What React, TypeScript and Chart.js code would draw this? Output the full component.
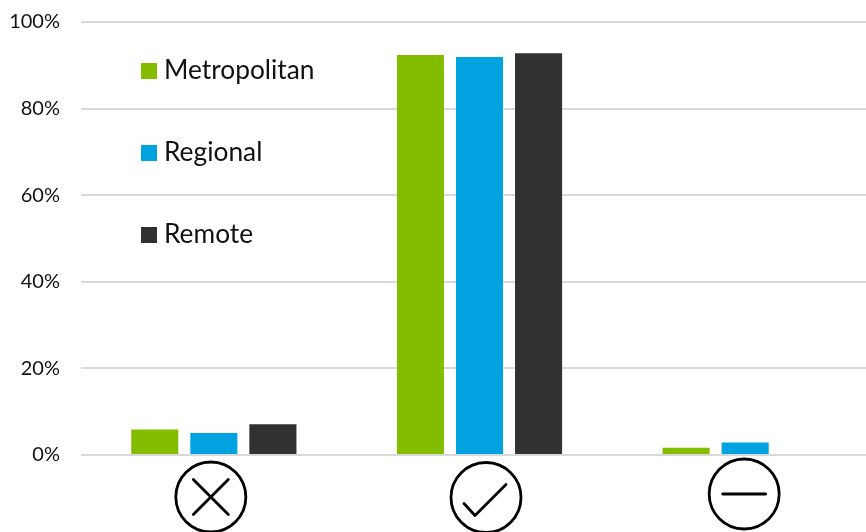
import React, { useEffect, useRef } from "react";
import { Chart, registerables } from "chart.js";

Chart.register(...registerables);

const categories = ["Disagree", "Agree", "Neutral"];
const metropolitan = [5.9, 92.4, 1.7];
const regional = [5.1, 91.9, 2.9];
const remote = [7.1, 92.8, 0];
const yTicks = [0, 20, 40, 60, 80, 100];

const FONT = "Lato, 'Open Sans', sans-serif";
const GREEN = "#84BD00";
const BLUE = "#00A3E0";
const DARK = "#313131";

const iconPlugin = {
  id: "answerIcons",
  afterDraw(chart: any) {
    const { ctx, scales } = chart;
    const x = scales.x;
    const nudges = [-3, 6.5, -1];
    const ys = [497, 497.5, 494];
    const r = 35;
    categories.forEach((_, i) => {
      const cx = x.getPixelForValue(i) + nudges[i];
      const cy = ys[i];
      ctx.save();
      ctx.strokeStyle = "#000";
      ctx.lineWidth = 2.8;
      ctx.lineCap = "round";
      ctx.lineJoin = "round";
      ctx.beginPath();
      ctx.arc(cx, cy, r, 0, Math.PI * 2);
      ctx.stroke();
      ctx.beginPath();
      if (i === 0) {
        ctx.moveTo(cx - 17.5, cy - 17.5);
        ctx.lineTo(cx + 17.5, cy + 17.5);
        ctx.moveTo(cx + 17.5, cy - 17.5);
        ctx.lineTo(cx - 17.5, cy + 17.5);
      } else if (i === 1) {
        ctx.moveTo(cx - 22, cy + 6);
        ctx.lineTo(cx - 11, cy + 18);
        ctx.lineTo(cx + 20, cy - 13);
      } else {
        ctx.moveTo(cx - 21.5, cy);
        ctx.lineTo(cx + 21.5, cy);
      }
      ctx.stroke();
      ctx.restore();
    });
  },
};

const legendPlugin = {
  id: "insideLegend",
  afterDraw(chart: any) {
    const { ctx, chartArea } = chart;
    const left = chartArea.left + 60;
    const firstY = chartArea.top + 49;
    const step = 82;
    chart.data.datasets.forEach((ds: any, i: number) => {
      const y = firstY + i * step;
      ctx.save();
      ctx.fillStyle = ds.backgroundColor;
      ctx.fillRect(left, y - 8, 16, 16);
      ctx.fillStyle = "#111";
      ctx.font = `26.3px ${FONT}`;
      ctx.textBaseline = "middle";
      ctx.textAlign = "left";
      ctx.fillText(ds.label, left + 23, y);
      ctx.restore();
    });
  },
};

export default function App() {
  const ref = useRef<HTMLCanvasElement>(null);
  useEffect(() => {
    if (!ref.current) return;
    const chart = new Chart(ref.current, {
      type: "bar",
      data: {
        labels: categories,
        datasets: [
          { label: "Metropolitan", data: metropolitan, backgroundColor: GREEN },
          { label: "Regional", data: regional, backgroundColor: BLUE },
          { label: "Remote", data: remote, backgroundColor: DARK },
        ],
      },
      options: {
        animation: false,
        responsive: false,
        datasets: { bar: { categoryPercentage: 0.667, barPercentage: 0.797 } },
        layout: { padding: { top: 22, bottom: 69, left: 0, right: 0 } },
        plugins: { legend: { display: false }, tooltip: { enabled: false } },
        scales: {
          x: {
            grid: { display: false },
            border: { display: false },
            ticks: { display: false },
          },
          y: {
            min: 0,
            max: 100,
            afterFit(scale: any) {
              scale.width = 81;
              scale.paddingTop = 0;
              scale.paddingBottom = 0;
            },
            afterBuildTicks(scale: any) {
              scale.ticks = yTicks.map((value) => ({ value }));
            },
            grid: { color: "#D9D9D9", lineWidth: 2, drawTicks: false },
            border: { display: false },
            ticks: {
              padding: 21,
              color: "#111",
              font: { family: FONT, size: 20 },
              callback: (v: any) => `${v}%`,
            },
          },
        },
      },
      plugins: [iconPlugin, legendPlugin],
    });
    return () => chart.destroy();
  }, []);
  return (
    <div style={{ position: "fixed", left: 0, top: 0, width: 866, height: 532, overflow: "hidden", background: "#fff" }}>
      <canvas ref={ref} width={878} height={532} style={{ display: "block" }} />
    </div>
  );
}
